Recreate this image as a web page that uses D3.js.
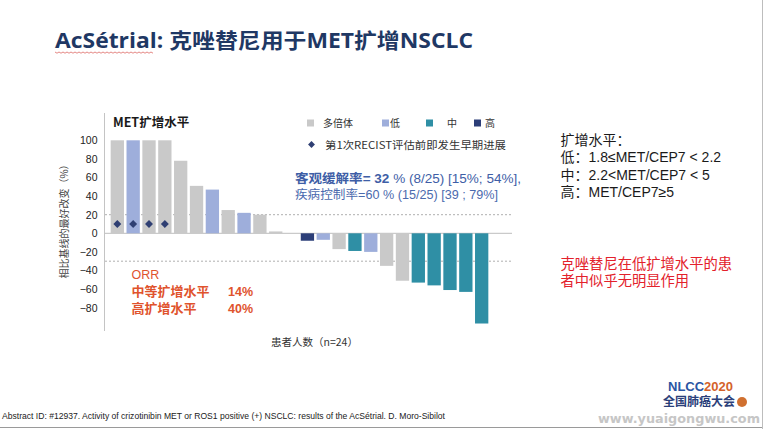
<!DOCTYPE html>
<html>
<head>
<meta charset="utf-8">
<script src="https://cdn.jsdelivr.net/npm/d3@7"></script>
<style>
  body { margin: 0; background: #fff; }
  svg { display: block; font-family: "Liberation Sans", "Noto Sans CJK SC", sans-serif; }
</style>
</head>
<body>
<div id="slide"></div>
<script>
// best change from baseline per patient (%), sorted waterfall
const values = [100, 100, 100, 100, 78, 51, 47, 25, 22, 20, 2, 0,
                -8, -7, -17, -19, -20, -35, -51, -53, -56, -61, -63, -97];
const levels = ["多倍体", "低", "多倍体", "多倍体", "多倍体", "多倍体", "低", "多倍体", "低", "多倍体", "多倍体", "多倍体",
                "高", "低", "多倍体", "中", "低", "多倍体", "多倍体", "中", "中", "中", "中", "中"];
const earlyProgression = [1, 1, 1, 1, 0, 0, 0, 0, 0, 0, 0, 0, 0, 0, 0, 0, 0, 0, 0, 0, 0, 0, 0, 0];
const legendLevels = ["多倍体", "低", "中", "高"];
const yTicks = [-80, -60, -40, -20, 0, 20, 40, 60, 80, 100];
const refLines = [20, -30];
const definitions = ["扩增水平：", "低：1.8≤MET/CEP7 < 2.2", "中：2.2<MET/CEP7 < 5", "高：MET/CEP7≥5"];
const conclusion = ["克唑替尼在低扩增水平的患", "者中似乎无明显作用"];

const W = 764, H = 429;
const svg = d3.select("#slide").append("svg").attr("width", W).attr("height", H);

const color = d3.scaleOrdinal()
    .domain(legendLevels)
    .range(["#c9c9c9", "#9eaedb", "#2f8fa5", "#2c3e78"]);

const x = d3.scaleBand()
    .domain(d3.range(values.length))
    .range([109.4, 489.6])
    .paddingInner(0.16)
    .paddingOuter(0.08);

const y = d3.scaleLinear().domain([-100, 100]).range([326.3, 140.3]);

// title
svg.append("text")
    .attr("x", 55).attr("y", 48)
    .attr("font-family", "'Open Sans', 'Noto Sans CJK SC', sans-serif")
    .attr("font-size", 21).attr("font-weight", "bold")
    .attr("fill", "#1f3864")
    .attr("textLength", 418).attr("lengthAdjust", "spacingAndGlyphs")
    .text("AcSétrial: 克唑替尼用于MET扩增NSCLC");

// spell-check style squiggle under AcSétrial
const sq = d3.range(55, 154, 2).map((px, i) => [px, 52 + (i % 2 ? 1.2 : 0)]);
svg.append("path").attr("d", d3.line()(sq)).attr("fill", "none").attr("stroke", "#d9534f").attr("stroke-width", 0.7);

// reference lines
svg.selectAll(".ref").data(refLines).enter().append("line")
    .attr("x1", 105).attr("x2", 512)
    .attr("y1", d => y(d)).attr("y2", d => y(d))
    .attr("stroke", "#9a9a9a").attr("stroke-width", 0.8).attr("stroke-dasharray", "2,2");

// zero line
svg.append("line")
    .attr("x1", 105).attr("x2", 512)
    .attr("y1", y(0)).attr("y2", y(0))
    .attr("stroke", "#bdbdbd").attr("stroke-width", 1);

// bars
svg.append("g").selectAll("rect").data(values).enter().append("rect")
    .attr("x", (d, i) => x(i))
    .attr("width", x.bandwidth())
    .attr("y", d => y(Math.max(0, d)))
    .attr("height", d => Math.abs(y(d) - y(0)))
    .attr("fill", (d, i) => color(levels[i]));

// early progression diamonds
const diamond = d3.symbol().type(d3.symbolDiamond2).size(40);
svg.append("g").selectAll("path").data(earlyProgression.map((e, i) => ({ e, i })).filter(d => d.e))
    .enter().append("path")
    .attr("d", diamond)
    .attr("transform", d => `translate(${x(d.i) + x.bandwidth() / 2},${y(10)})`)
    .attr("fill", "#2f3f73");

// y axis
const yAxis = svg.append("g")
    .attr("transform", "translate(104.5,0)")
    .call(d3.axisLeft(y).tickValues(yTicks).tickSize(0).tickPadding(7));
yAxis.select(".domain").remove();
yAxis.selectAll("text")
    .attr("font-family", "'Liberation Sans', sans-serif")
    .attr("font-size", 10.5).attr("fill", "#222");
svg.append("line")
    .attr("x1", 104.5).attr("x2", 104.5).attr("y1", 113).attr("y2", 331)
    .attr("stroke", "#c4c4c4").attr("stroke-width", 1);

svg.append("text")
    .attr("transform", "translate(68,219) rotate(-90)")
    .attr("text-anchor", "middle")
    .attr("font-family", "'Noto Sans CJK SC', sans-serif")
    .attr("font-size", 10).attr("fill", "#444")
    .text("相比基线的最好改变（%）");

svg.append("text")
    .attr("x", 271).attr("y", 346)
    .attr("font-family", "'Noto Sans CJK SC', sans-serif")
    .attr("font-size", 10.5).attr("fill", "#333")
    .text("患者人数（n=24）");

svg.append("text")
    .attr("x", 113).attr("y", 126.5)
    .attr("font-family", "'Noto Sans CJK SC', sans-serif")
    .attr("font-size", 12.5).attr("font-weight", "bold").attr("fill", "#1a1a1a")
    .text("MET扩增水平");

// legend
const legendX = [307, 382, 426, 474];
const legendTextX = [323, 390, 447, 485];
const lg = svg.append("g");
legendLevels.forEach((lv, i) => {
  lg.append("rect").attr("x", legendX[i]).attr("y", 119.5).attr("width", 7).attr("height", 7).attr("fill", color(lv));
  lg.append("text").attr("x", legendTextX[i]).attr("y", 127)
    .attr("font-family", "'Noto Sans CJK SC', sans-serif")
    .attr("font-size", 10).attr("fill", "#333").text(lv);
});
lg.append("path").attr("d", d3.symbol().type(d3.symbolDiamond2).size(30))
    .attr("transform", "translate(311.5,144.5)").attr("fill", "#2f3f73");
lg.append("text").attr("x", 325).attr("y", 149)
    .attr("font-family", "'Noto Sans CJK SC', sans-serif")
    .attr("font-size", 10.5).attr("fill", "#333")
    .attr("textLength", 181).attr("lengthAdjust", "spacingAndGlyphs")
    .text("第1次RECIST评估前即发生早期进展");

// response rates
const rr = svg.append("text")
    .attr("font-family", "'Liberation Sans', 'Noto Sans CJK SC', sans-serif")
    .attr("font-size", 12.5);
const rr1 = rr.append("tspan").attr("x", 295).attr("y", 183).attr("fill", "#3e5ea6")
    .attr("textLength", 226).attr("lengthAdjust", "spacingAndGlyphs");
rr1.append("tspan").attr("font-weight", "bold").text("客观缓解率= 32");
rr1.append("tspan").text(" % (8/25) [15%; 54%],");
rr.append("tspan").attr("x", 295).attr("y", 199).attr("fill", "#4b6aae")
    .attr("textLength", 203).attr("lengthAdjust", "spacingAndGlyphs")
    .text("疾病控制率=60 % (15/25) [39 ; 79%]");

// ORR callout
const orrColor = "#e0532d";
svg.append("text").attr("x", 131.5).attr("y", 279)
    .attr("font-family", "'Liberation Sans', sans-serif")
    .attr("font-size", 12.5).attr("fill", orrColor).text("ORR");
[["中等扩增水平", "14%", 296], ["高扩增水平", "40%", 313]].forEach(r => {
  svg.append("text").attr("x", 131.5).attr("y", r[2])
    .attr("font-family", "'Liberation Sans', 'Noto Sans CJK SC', sans-serif")
    .attr("font-size", 13).attr("font-weight", "bold").attr("fill", orrColor).text(r[0]);
  svg.append("text").attr("x", 228).attr("y", r[2])
    .attr("font-family", "'Liberation Sans', sans-serif")
    .attr("font-size", 12.5).attr("font-weight", "bold").attr("fill", orrColor).text(r[1]);
});

// definitions on right
const defs = svg.append("text")
    .attr("font-family", "'Liberation Sans', 'Noto Sans CJK SC', sans-serif")
    .attr("font-size", 14).attr("fill", "#1a1a1a");
defs.selectAll("tspan").data(definitions).enter().append("tspan")
    .attr("x", 560.5).attr("y", (d, i) => 145 + i * 17.3)
    .text(d => d);

// conclusion in red
const concl = svg.append("text")
    .attr("font-family", "'Liberation Sans', 'Noto Sans CJK SC', sans-serif")
    .attr("font-size", 14.3).attr("fill", "#e3212b");
concl.selectAll("tspan").data(conclusion).enter().append("tspan")
    .attr("x", 560.5).attr("y", (d, i) => 269 + i * 17)
    .text(d => d);

// footer
svg.append("text").attr("x", 2).attr("y", 419)
    .attr("font-family", "'Liberation Sans', sans-serif")
    .attr("font-size", 9).attr("fill", "#222")
    .attr("textLength", 443).attr("lengthAdjust", "spacingAndGlyphs")
    .text("Abstract ID: #12937. Activity of crizotinibin MET or ROS1 positive (+) NSCLC: results of the AcSétrial. D. Moro-Sibilot");
svg.append("line").attr("x1", 0).attr("x2", 762).attr("y1", 427.5).attr("y2", 427.5)
    .attr("stroke", "#9a9a9a").attr("stroke-width", 1);
svg.append("line").attr("x1", 762.5).attr("x2", 762.5).attr("y1", 0).attr("y2", 429)
    .attr("stroke", "#bdbdbd").attr("stroke-width", 1);

// logo
const logo = svg.append("text").attr("x", 668).attr("y", 391)
    .attr("font-family", "'Liberation Sans', sans-serif")
    .attr("font-size", 13).attr("font-weight", "bold");
logo.append("tspan").attr("fill", "#2b55a3").text("NLCC");
logo.append("tspan").attr("fill", "#d4622a").text("2020");
svg.append("text").attr("x", 663).attr("y", 406)
    .attr("font-family", "'Liberation Serif', 'Noto Sans CJK SC', serif")
    .attr("font-size", 12).attr("font-weight", "bold").attr("fill", "#2b3f7a")
    .text("全国肺癌大会");
svg.append("circle").attr("cx", 742).attr("cy", 402).attr("r", 5).attr("fill", "#d07030");
svg.append("text").attr("x", 598).attr("y", 423)
    .attr("font-family", "'DejaVu Sans', sans-serif")
    .attr("font-size", 12.5).attr("font-weight", "bold").attr("fill", "#c6c6c6")
    .attr("textLength", 162).attr("lengthAdjust", "spacingAndGlyphs")
    .text("www.yuaigongwu.com");
</script>
</body>
</html>
